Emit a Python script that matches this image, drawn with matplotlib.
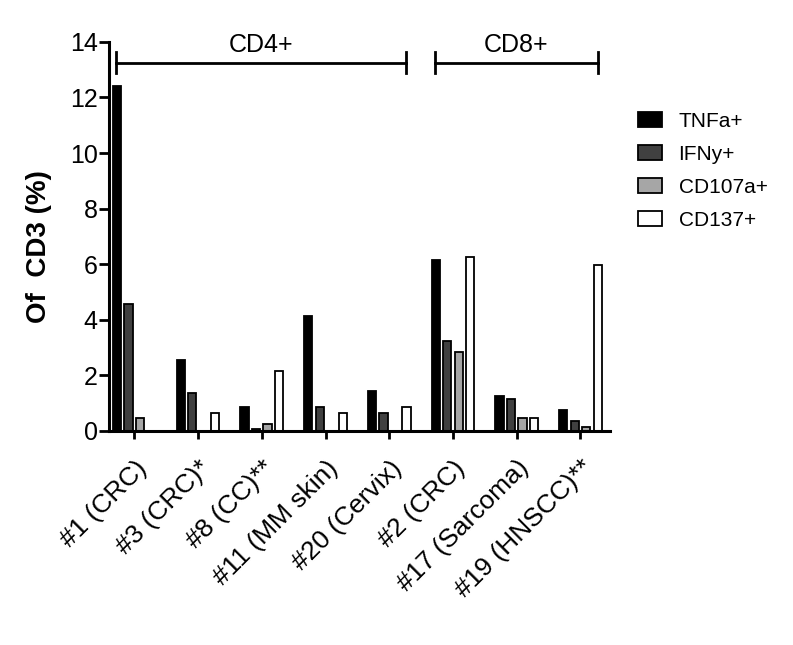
import matplotlib
matplotlib.use("Agg")
import matplotlib.pyplot as plt
import matplotlib.transforms as mtransforms
import numpy as np

plt.rcParams['font.family'] = ['Liberation Sans', 'DejaVu Sans']

categories = ["#1 (CRC)", "#3 (CRC)*", "#8 (CC)**", "#11 (MM skin)", "#20 (Cervix)",
              "#2 (CRC)", "#17 (Sarcoma)", "#19 (HNSCC)**"]
series_names = ["TNFa+", "IFNy+", "CD107a+", "CD137+"]
tnfa = [12.4, 2.55, 0.85, 4.15, 1.45, 6.15, 1.26, 0.76]
ifny = [4.55, 1.36, 0.05, 0.85, 0.64, 3.25, 1.15, 0.34]
cd107a = [0.45, 0.0, 0.24, 0.0, 0.0, 2.85, 0.46, 0.13]
cd137 = [0.0, 0.64, 2.15, 0.64, 0.85, 6.25, 0.46, 5.96]
colors = ["#000000", "#404040", "#a6a6a6", "#ffffff"]
groups = [("CD4+", 0, 4), ("CD8+", 5, 7)]

fig = plt.figure(figsize=(7.93, 6.45), dpi=100)
ax = fig.add_axes([0.138, 0.332, 0.631, 0.603])

x = np.arange(len(categories))
slot = 0.18
width = 0.13
for i, (vals, name, c) in enumerate(zip([tnfa, ifny, cd107a, cd137], series_names, colors)):
    ax.bar(x + (i - 1.5) * slot, vals, width=width, color=c, edgecolor="black",
           linewidth=1.3, label=name)

ax.set_ylim(0, 14)
ax.set_xlim(-0.39, 7.46)
ax.set_yticks(range(0, 15, 2))
ax.set_xticks(x)
ax.set_xticklabels(categories, rotation=45, ha="right", rotation_mode="anchor", fontsize=19)
offset = mtransforms.ScaledTranslation(-5 / 100, 0, fig.dpi_scale_trans)
for lab in ax.get_xticklabels():
    lab.set_transform(lab.get_transform() + offset)
ax.tick_params(axis="y", labelsize=18, width=2, length=7, direction="out", pad=1.5)
ax.tick_params(axis="x", width=2, length=6, direction="out", pad=12)
for s in ["top", "right"]:
    ax.spines[s].set_visible(False)
for s in ["left", "bottom"]:
    ax.spines[s].set_linewidth(2.2)
ax.set_ylabel("Of  CD3 (%)", fontsize=20, fontweight="bold")
ax.yaxis.set_label_coords(-0.114, 0.475)

# group brackets
ybr = 13.25
for label, a, b in groups:
    x0, x1 = a - 0.28, b + 0.27
    ax.plot([x0, x1], [ybr, ybr], color="black", lw=2, clip_on=False)
    for xx in (x0, x1):
        ax.plot([xx, xx], [ybr - 0.37, ybr + 0.37], color="black", lw=2, clip_on=False)
    ax.text((x0 + x1) / 2, 13.63, label, ha="center", va="baseline", fontsize=18)

fig.legend(*ax.get_legend_handles_labels(), loc="center left", bbox_to_anchor=(0.794, 0.735),
           borderaxespad=0, frameon=False, fontsize=15, handlelength=1.15, handleheight=0.72,
           labelspacing=0.68, handletextpad=0.8)

fig.savefig("out.png", dpi=100)
